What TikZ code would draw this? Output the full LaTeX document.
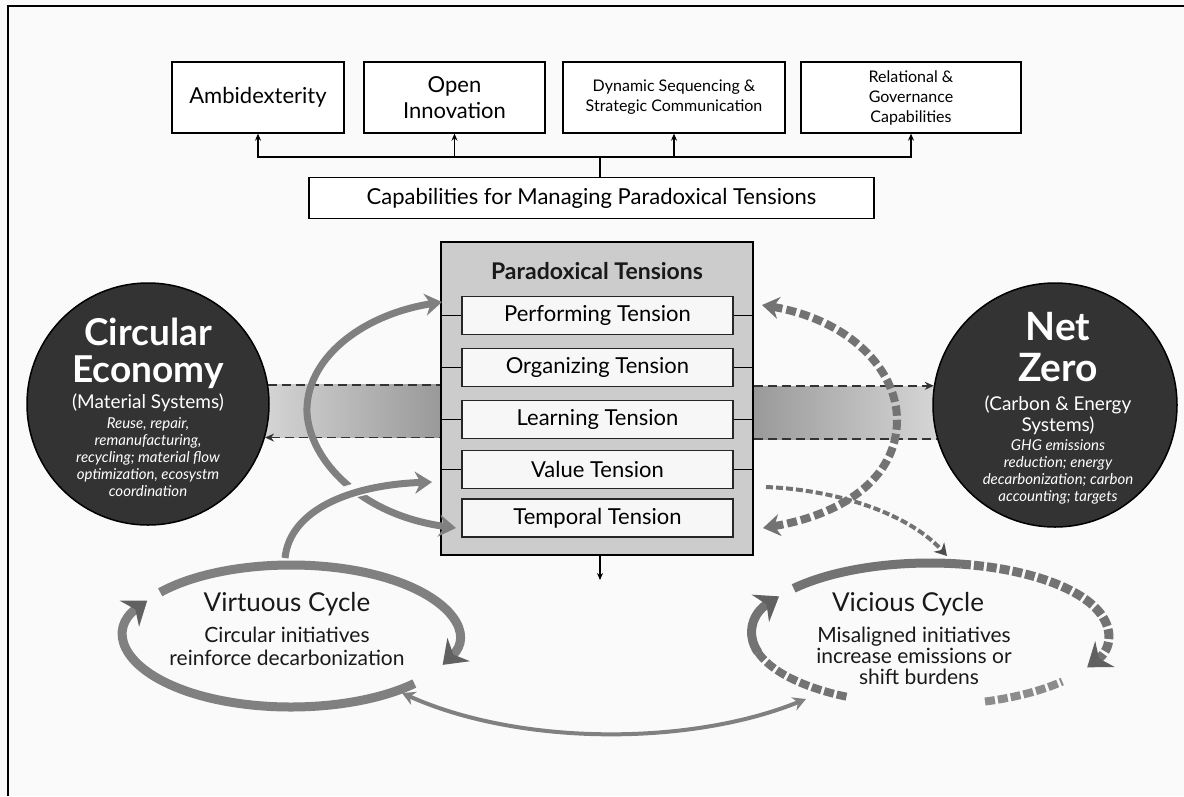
\documentclass[tikz,border=0pt]{standalone}
\usepackage{fontspec}
\setmainfont{Lato}
\usetikzlibrary{arrows.meta,calc}
\begin{document}
\begin{tikzpicture}[x=1pt,y=-1pt,
  topbox/.style={draw=black, line width=1.3pt, fill=white, inner sep=0pt, align=center},
  tens/.style={draw=black!85, line width=1.5pt, fill=black!3, minimum width=271pt, minimum height=38pt, inner sep=0pt, font=\fontsize{22}{26}\selectfont},
  conn/.style={line width=1.3pt, -{Stealth[length=7pt,width=6pt]}},
  plainline/.style={line width=1.3pt},
  hdash/.style={line width=1.5pt, dash pattern=on 9pt off 5pt, draw=black!80},
  circ/.style={circle, draw=black, line width=1.5pt, fill=black!80, inner sep=0pt},
  wtxt/.style={text=white, anchor=base, inner sep=0pt},
  btxt/.style={text=black!90, anchor=base, inner sep=0pt},
  bigarr/.style={line width=7pt, draw=black!50, arrows={Stealth[length=17pt,width=22pt]-Stealth[length=17pt,width=22pt]}},
  midarr/.style={line width=7pt, draw=black!50, arrows={-Stealth[length=17pt,width=22pt]}},
  cyc/.style={line width=9pt, draw=black!50, arrows={-Stealth[length=22pt,width=32pt,color=black!62]}},
  cycd/.style={line width=9pt, draw=black!55, dash pattern=on 10pt off 3pt},
]
\useasboundingbox (0,0) rectangle (1184,796);
\fill[black!2] (0,0) rectangle (1184,796);
\draw[line width=2pt] (8,796) -- (8,6) -- (1184,6);

% circles and bands
\shade[left color=black!8, right color=black!40] (200,384) rectangle (441,437);
\shade[left color=black!40, right color=black!8] (753,386) rectangle (1000,439);
\node[circ, minimum size=242pt] (ce) at (148,404) {};
\node[circ, minimum size=244pt] (nz) at (1055,405) {};

% paradoxical tensions box
\node[draw=black, line width=1.5pt, fill=black!20, minimum width=312pt, minimum height=313pt, inner sep=0pt] (pt) at (597,398.5) {};
\node[btxt, font=\bfseries\fontsize{23}{27}\selectfont] (ptt) at (597,279) {Paradoxical Tensions};
\node[tens] (t1) at (597.5,315.5) {Performing Tension};
\node[tens] (t2) at (597.5,367.5) {Organizing Tension};
\node[tens] (t3) at (597.5,419.5) {Learning Tension};
\node[tens] (t4) at (597.5,469.5) {Value Tension};
\node[tens] (t5) at (597.5,518) {Temporal Tension};
\foreach \t in {t1,t2,t3,t4}{
  \draw[plainline] (pt.west |- \t.west) -- (\t.west);
  \draw[plainline] (\t.east) -- (pt.east |- \t.east);
}
\coordinate (ptout) at (600,580);
\draw[conn] (pt.south -| ptout) -- (ptout);

% horizontal dashed links
\draw[hdash] (ce.9.5) -- (ce.9.5 -| pt.west);
\draw[hdash, arrows={Stealth[length=9pt,width=8pt]-}] (ce.-16) -- (ce.-16 -| pt.west);
\draw[hdash, arrows={-Stealth[length=9pt,width=8pt]}] (nz.171 -| pt.east) -- (nz.171);
\draw[hdash] (nz.-164 -| pt.east) -- (nz.-164);

% circle texts
\node[wtxt, font=\bfseries\fontsize{37}{42}\selectfont] (ce1) at (148,345) {Circular};
\node[wtxt, font=\bfseries\fontsize{37}{42}\selectfont] (ce2) at (148,382) {Economy};
\node[wtxt, font=\fontsize{19}{23}\selectfont] (ce3) at (148,408) {(Material Systems)};
\node[wtxt, font=\itshape\fontsize{15}{18}\selectfont] (ce4) at (148,428) {Reuse, repair,};
\node[wtxt, font=\itshape\fontsize{15}{18}\selectfont] (ce5) at (148,445) {remanufacturing,};
\node[wtxt, font=\itshape\fontsize{15}{18}\selectfont] (ce6) at (148,462) {recycling; material flow};
\node[wtxt, font=\itshape\fontsize{15}{18}\selectfont] (ce7) at (148,479) {optimization, ecosystm};
\node[wtxt, font=\itshape\fontsize{15}{18}\selectfont] (ce8) at (148,496) {coordination};

\node[wtxt, font=\bfseries\fontsize{39}{44}\selectfont] (nz1) at (1058,340) {Net};
\node[wtxt, font=\bfseries\fontsize{39}{44}\selectfont] (nz2) at (1058,381) {Zero};
\node[wtxt, font=\fontsize{19}{23}\selectfont] (nz3) at (1058,410) {(Carbon \& Energy};
\node[wtxt, font=\fontsize{19}{23}\selectfont] (nz4) at (1058,431) {Systems)};
\node[wtxt, font=\itshape\fontsize{15}{18}\selectfont] (nz5) at (1058,450) {GHG emissions};
\node[wtxt, font=\itshape\fontsize{15}{18}\selectfont] (nz6) at (1058,467) {reduction; energy};
\node[wtxt, font=\itshape\fontsize{15}{18}\selectfont] (nz7) at (1058,484) {decarbonization; carbon};
\node[wtxt, font=\itshape\fontsize{15}{18}\selectfont] (nz8) at (1058,501) {accounting; targets};

% top capability boxes
\node[topbox, minimum width=172pt, minimum height=71pt, font=\fontsize{22}{26}\selectfont] (b1) at (258,97.5) {Ambidexterity};
\node[topbox, minimum width=181pt, minimum height=71pt, font=\fontsize{22}{26}\selectfont] (b2) at (454.5,97.5) {Open\\Innovation};
\node[topbox, minimum width=222pt, minimum height=71pt, font=\fontsize{16}{20}\selectfont] (b3) at (674,97.5) {Dynamic Sequencing \&\\Strategic Communication};
\node[topbox, minimum width=220pt, minimum height=71pt, font=\fontsize{16}{20}\selectfont] (b4) at (911,97.5) {Relational \&\\Governance\\Capabilities};
\node[topbox, minimum width=565pt, minimum height=41pt, font=\fontsize{22}{26}\selectfont] (cap) at (591.5,198) {Capabilities for Managing Paradoxical Tensions};
\coordinate (bus) at (600,157);
\draw[plainline] (bus |- cap.north) -- (bus);
\draw[plainline] (258,157) -- (911,157);
\foreach \b in {b1,b2,b3,b4}{
  \draw[conn] (bus) -| (\b.south);
}

% left curved arrows
\coordinate (lt) at (442,302);
\coordinate (lb) at (456,528);
\coordinate (lm) at (307,413);
\draw[bigarr] (lb) .. controls (360,515) and (310,460) .. (lm) .. controls (305,360) and (360,315) .. (lt);
\coordinate (vs) at (285,558);
\coordinate (vt) at (432,482);
\draw[line width=14pt, draw=black!2, shorten <=20pt, shorten >=30pt] (vs) .. controls (290,510) and (350,485) .. (vt);
\draw[midarr] (vs) .. controls (290,510) and (350,485) .. (vt);

% right curved arrows
\coordinate (rt) at (762,305);
\coordinate (rb) at (763,528);
\coordinate (rm) at (897,420);
\draw[line width=8pt, draw=black!55, dash pattern=on 10pt off 4pt, arrows={Stealth[length=17pt,width=22pt]-Stealth[length=17pt,width=22pt]}] (rb) .. controls (840,515) and (897,480) .. (rm) .. controls (897,370) and (850,320) .. (rt);
\coordinate (ds) at (766,487);
\coordinate (de) at (947,556);
\draw[line width=4pt, draw=black!55, dash pattern=on 7pt off 3pt, arrows={-Stealth[length=12pt,width=14pt,color=black!70]}] (ds) .. controls (840,490) and (910,515) .. (de);

% virtuous cycle
\coordinate (vc) at (291,636);
\draw[cyc] (vc) ++(218:166 and 71) arc[start angle=218, end angle=384, x radius=166, y radius=71];
\draw[cyc] (vc) ++(42:166 and 71) arc[start angle=42, end angle=210, x radius=166, y radius=71];
\node[btxt, font=\fontsize{26}{30}\selectfont] (vc1) at (287,611) {Virtuous Cycle};
\node[btxt, font=\fontsize{21}{25}\selectfont] (vc2) at (287,642) {Circular initiatives};
\node[btxt, font=\fontsize{21}{25}\selectfont] (vc3) at (287,665) {reinforce decarbonization};

% vicious cycle
\coordinate (xc) at (930,634);
\draw[line width=9pt, draw=black!55] (xc) ++(220:178 and 71) arc[start angle=220, end angle=280, x radius=178, y radius=71];
\draw[cycd, arrows={-Stealth[length=22pt,width=32pt,color=black!62]}] (xc) ++(280:178 and 71) arc[start angle=280, end angle=388, x radius=178, y radius=71];
\draw[cycd, line width=8pt] (xc) ++(118:178 and 71) arc[start angle=118, end angle=166, x radius=178, y radius=71];
\draw[line width=9pt, draw=black!55, arrows={-Stealth[length=22pt,width=32pt,color=black!62]}] (xc) ++(165:178 and 71) arc[start angle=165, end angle=212, x radius=178, y radius=71];
\draw[cycd, line width=8pt, draw=black!45] (xc) ++(72:178 and 71) arc[start angle=72, end angle=42, x radius=178, y radius=71];
\node[btxt, font=\fontsize{26}{30}\selectfont] (xc1) at (908,611) {Vicious Cycle};
\node[btxt, font=\fontsize{21}{25}\selectfont] (xc2) at (914,642) {Misaligned initiatives};
\node[btxt, font=\fontsize{21}{25}\selectfont] (xc3) at (914,663) {increase emissions or};
\node[btxt, font=\fontsize{21}{25}\selectfont] (xc4) at (919,684) {shift burdens};

% bottom link between cycles
\coordinate (bl) at (402,693);
\coordinate (br) at (806,699);
\draw[line width=4pt, draw=black!50, arrows={Stealth[length=13pt,width=14pt]-Stealth[length=13pt,width=14pt]}] (bl) .. controls (520,746) and (690,746) .. (br);
\end{tikzpicture}
\end{document}
